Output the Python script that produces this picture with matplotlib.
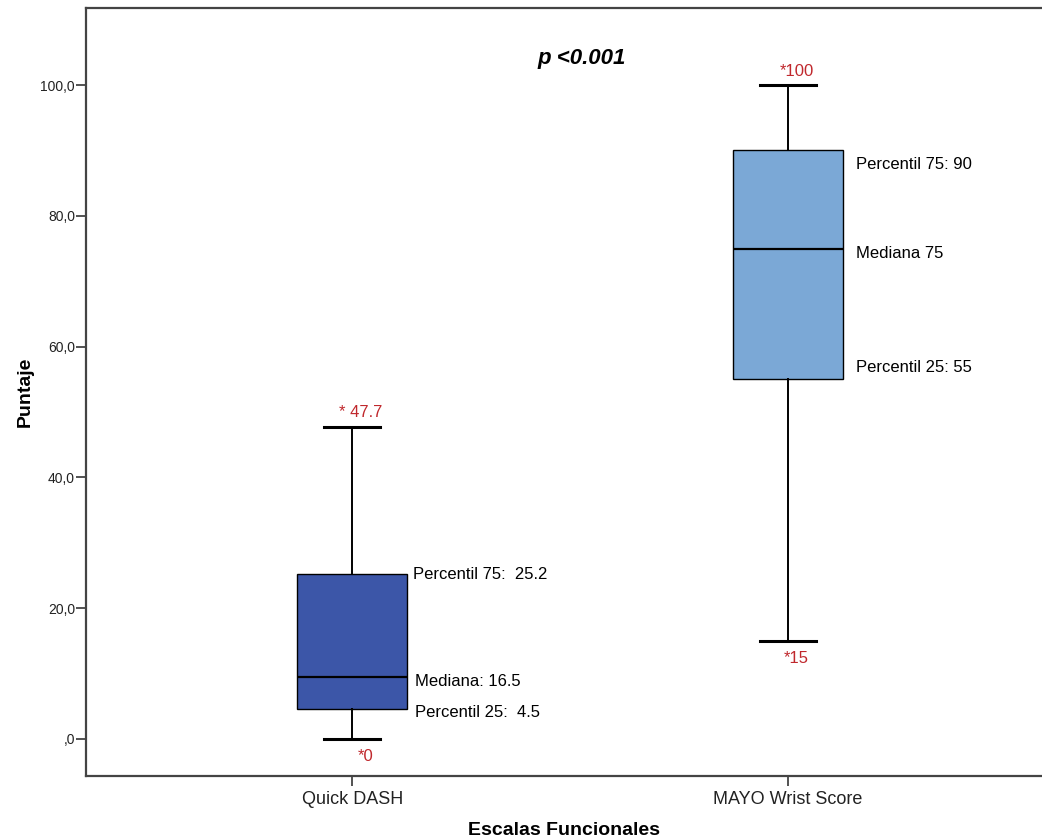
import matplotlib
matplotlib.use("Agg")
import matplotlib.pyplot as plt
from matplotlib.ticker import FuncFormatter

# data
categories = ["Quick DASH", "MAYO Wrist Score"]
whisker_low = [0.0, 15.0]
q1 = [4.5, 55.0]
median = [9.4, 75.0]
q3 = [25.2, 90.0]
whisker_high = [47.7, 100.0]
box_colors = ["#3C56A8", "#7BA8D6"]

low_labels = ["*0", "*15"]
high_labels = ["* 47.7", "*100"]
q3_labels = ["Percentil 75:  25.2", "Percentil 75: 90"]
med_labels = ["Mediana: 16.5", "Mediana 75"]
q1_labels = ["Percentil 25:  4.5", "Percentil 25: 55"]

plt.rcParams["font.family"] = ["Liberation Sans", "DejaVu Sans"]
red = "#C0282D"
fs_note = 12

fig = plt.figure(figsize=(10.42, 8.4), dpi=100)
ax = fig.add_axes([86 / 1042, 64 / 840, 956 / 1042, 768 / 840])

pos = [1, 2]
stats = [dict(whislo=whisker_low[i], q1=q1[i], med=median[i], q3=q3[i],
              whishi=whisker_high[i], fliers=[]) for i in range(len(categories))]
bp = ax.bxp(stats, positions=pos, widths=0.253, patch_artist=True,
            showfliers=False,
            boxprops=dict(edgecolor="black", linewidth=1.0),
            medianprops=dict(color="black", linewidth=1.6),
            whiskerprops=dict(color="black", linewidth=1.4),
            capprops=dict(color="black", linewidth=2.2),
            capwidths=0.128)
for patch, c in zip(bp["boxes"], box_colors):
    patch.set_facecolor(c)

# value annotations
low_dx = [0.03, 0.018]
for i, x in enumerate(pos):
    ax.text(x + low_dx[i], whisker_low[i] - 1.6, low_labels[i], color=red,
            fontsize=fs_note, ha="center", va="top")
    ax.text(x + 0.02, whisker_high[i] + 1.0, high_labels[i], color=red,
            fontsize=fs_note, ha="center", va="bottom")
xr = [1.14, 2.155]
ax.text(xr[0], q3[0], q3_labels[0], fontsize=fs_note, va="center")
ax.text(xr[0] + 0.005, median[0] - 0.6, med_labels[0], fontsize=fs_note, va="center")
ax.text(xr[0] + 0.005, q1[0] - 0.5, q1_labels[0], fontsize=fs_note, va="center")
ax.text(xr[1], q3[1] - 2.2, q3_labels[1], fontsize=fs_note, va="center")
ax.text(xr[1], median[1] - 0.8, med_labels[1], fontsize=fs_note, va="center")
ax.text(xr[1], q1[1] + 1.8, q1_labels[1], fontsize=fs_note, va="center")

ax.text(1.526, 104.1, "p <0.001", fontsize=16, fontweight="bold", fontstyle="italic",
        ha="center", va="center")

ax.set_xlim(0.389, 2.583)
ax.set_ylim(-5.7, 111.8)
ax.set_xticks(pos)
ax.set_xticklabels(categories, fontsize=13, color="#222222")
ax.set_yticks([0, 20, 40, 60, 80, 100])
ax.yaxis.set_major_formatter(FuncFormatter(
    lambda v, p: ",0" if v == 0 else f"{v:.1f}".replace(".", ",")))
ax.tick_params(axis="y", labelsize=10, length=7, width=1.3, color="#444444", pad=1,
               labelcolor="#222222")
ax.tick_params(axis="x", length=7, width=1.3, color="#444444", pad=4)

for s in ["left", "top", "bottom"]:
    ax.spines[s].set_color("#444444")
    ax.spines[s].set_linewidth(1.6)
ax.spines["right"].set_visible(False)

ax.set_xlabel("Escalas Funcionales", fontsize=14, fontweight="bold", labelpad=10)
ax.set_ylabel("Puntaje", fontsize=14, fontweight="bold", labelpad=5)

fig.savefig("out.png", dpi=100, facecolor="white")
